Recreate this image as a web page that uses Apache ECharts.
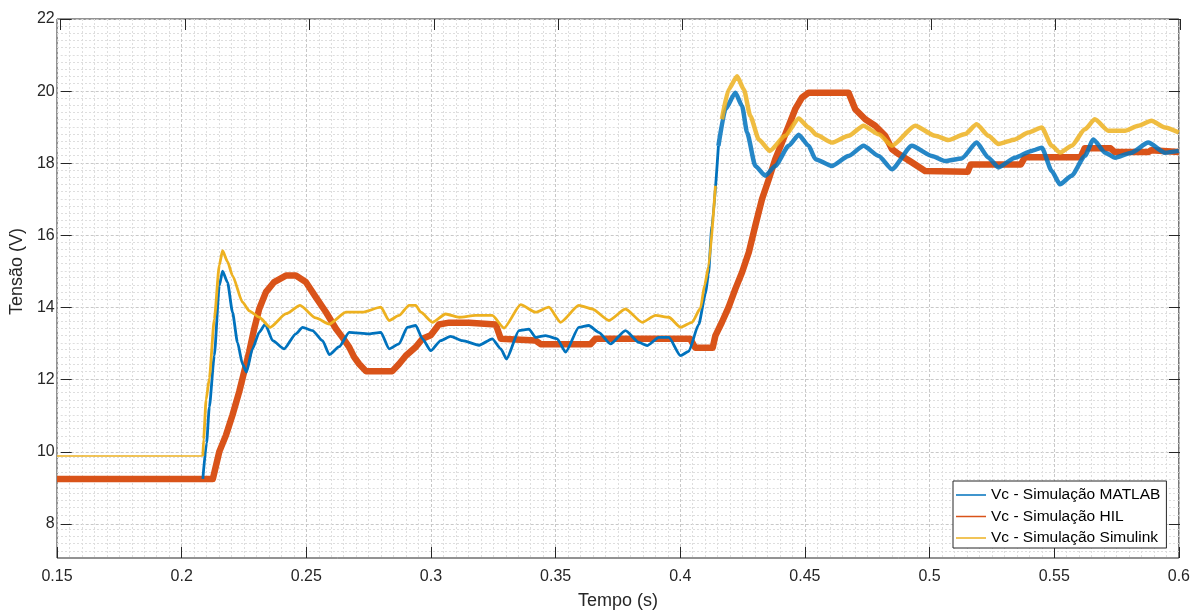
<!DOCTYPE html>
<html>
<head>
<meta charset="utf-8">
<script src="https://cdn.jsdelivr.net/npm/echarts@6/dist/echarts.min.js"></script>
<style>html,body{margin:0;padding:0;background:#fff;}#c{width:1193px;height:615px;}</style>
</head>
<body>
<div id="c"></div>
<script>
// ---- data (time in s, voltage in V) ----
const seriesNames = ['Vc - Simulação MATLAB', 'Vc - Simulação HIL', 'Vc - Simulação Simulink'];
const seriesColors = ['#0072BD', '#D95319', '#EDB120'];

const matlabData = [
[0.2085,9.20],[0.2100,10.2],[0.2111,11.2],[0.2131,12.63],[0.2151,14.58],[0.2164,14.98],[0.2184,14.67],[0.2204,13.84],[0.2224,13.00],[0.2244,12.40],[0.2260,12.17],[0.2284,12.82],[0.2311,13.28],[0.2335,13.51],[0.2365,13.05],[0.2411,12.82],[0.2458,13.24],[0.2485,13.42],[0.2525,13.33],[0.2565,13.05],[0.2592,12.66],[0.2632,12.88],[0.2672,13.28],[0.2752,13.24],[0.2799,13.28],[0.2832,12.82],[0.2872,12.96],[0.2905,13.42],[0.2939,13.47],[0.2966,13.10],[0.2999,12.77],[0.3039,13.05],[0.3079,13.17],[0.3126,13.05],[0.3193,12.92],[0.3246,13.10],[0.3280,12.82],[0.3303,12.54],[0.3353,13.33],[0.3393,13.37],[0.3420,13.14],[0.3460,13.19],[0.3506,13.10],[0.3540,12.73],[0.3593,13.42],[0.3633,13.47],[0.3673,13.28],[0.3720,12.96],[0.3780,13.33],[0.3834,13.00],[0.3867,12.91],[0.3914,13.14],[0.3954,13.14],[0.4001,12.63],[0.4034,12.75],[0.4074,13.50],[0.4101,14.35],[0.4113,14.90],[0.4127,16.25],[0.4153,18.47],[0.4181,19.49],[0.4221,19.95],[0.4248,19.58],[0.4268,18.84],[0.4301,17.91],[0.4341,17.64],[0.4381,17.91],[0.4435,18.47],[0.4475,18.78],[0.4515,18.47],[0.4542,18.10],[0.4608,17.91],[0.4675,18.19],[0.4735,18.47],[0.4796,18.19],[0.4849,17.82],[0.4929,18.47],[0.5009,18.19],[0.5062,18.05],[0.5129,18.12],[0.5189,18.56],[0.5236,18.14],[0.5276,17.87],[0.5343,18.14],[0.5409,18.33],[0.5450,18.42],[0.5490,17.77],[0.5523,17.40],[0.5570,17.64],[0.5623,18.19],[0.5657,18.65],[0.5704,18.28],[0.5744,18.14],[0.5810,18.28],[0.5877,18.56],[0.5944,18.28],[0.6000,18.33]
];

const hilData = [
[0.1500,9.20],[0.2125,9.20],[0.2151,9.96],[0.2178,10.42],[0.2204,10.98],[0.2231,11.63],[0.2251,12.19],[0.2271,12.74],[0.2291,13.38],[0.2311,13.93],[0.2338,14.40],[0.2371,14.68],[0.2418,14.86],[0.2458,14.86],[0.2498,14.68],[0.2538,14.26],[0.2579,13.84],[0.2619,13.38],[0.2645,13.14],[0.2672,12.87],[0.2692,12.59],[0.2712,12.40],[0.2739,12.20],[0.2845,12.20],[0.2872,12.40],[0.2899,12.63],[0.2939,12.87],[0.2966,13.10],[0.2999,13.20],[0.3032,13.50],[0.3073,13.55],[0.3153,13.55],[0.3260,13.50],[0.3280,13.10],[0.3420,13.05],[0.3440,12.95],[0.3640,12.95],[0.3660,13.10],[0.4040,13.10],[0.4060,12.85],[0.4130,12.85],[0.4141,13.19],[0.4167,13.56],[0.4194,13.98],[0.4221,14.49],[0.4248,14.95],[0.4275,15.51],[0.4301,16.25],[0.4328,16.99],[0.4355,17.54],[0.4381,18.10],[0.4408,18.56],[0.4435,19.03],[0.4461,19.49],[0.4488,19.81],[0.4515,19.95],[0.4675,19.95],[0.4702,19.49],[0.4742,19.21],[0.4782,19.03],[0.4822,18.75],[0.4849,18.38],[0.4876,18.24],[0.4929,18.01],[0.4982,17.77],[0.5153,17.75],[0.5165,17.95],[0.5366,17.95],[0.5382,18.15],[0.5606,18.15],[0.5622,18.40],[0.5726,18.40],[0.5742,18.30],[0.5878,18.30],[0.5890,18.35],[0.6000,18.30]
];

const simulinkData = [
[0.1500,9.84],[0.2085,9.84],[0.2088,10.30],[0.2098,11.40],[0.2111,12.00],[0.2131,13.65],[0.2151,15.15],[0.2164,15.55],[0.2184,15.25],[0.2204,14.86],[0.2244,14.12],[0.2271,13.88],[0.2311,13.70],[0.2355,13.42],[0.2419,13.80],[0.2475,14.03],[0.2538,13.68],[0.2592,13.51],[0.2659,13.84],[0.2725,13.84],[0.2799,13.98],[0.2832,13.61],[0.2872,13.75],[0.2912,14.03],[0.2939,14.03],[0.2959,13.84],[0.3006,13.56],[0.3059,13.79],[0.3113,13.70],[0.3179,13.75],[0.3246,13.75],[0.3293,13.40],[0.3360,14.05],[0.3420,13.84],[0.3473,13.98],[0.3520,13.56],[0.3593,14.03],[0.3647,13.93],[0.3714,13.61],[0.3780,13.93],[0.3847,13.56],[0.3901,13.75],[0.3954,13.70],[0.4001,13.42],[0.4047,13.56],[0.4081,13.95],[0.4098,14.60],[0.4113,15.10],[0.4141,17.36],[0.4167,19.21],[0.4194,20.04],[0.4228,20.41],[0.4255,20.04],[0.4281,19.30],[0.4315,18.65],[0.4359,18.33],[0.4421,18.75],[0.4475,19.23],[0.4515,18.98],[0.4547,18.77],[0.4608,18.56],[0.4675,18.75],[0.4735,19.03],[0.4796,18.79],[0.4849,18.47],[0.4942,19.03],[0.5022,18.75],[0.5075,18.63],[0.5143,18.80],[0.5189,19.07],[0.5236,18.75],[0.5276,18.52],[0.5343,18.65],[0.5396,18.84],[0.5450,18.98],[0.5490,18.47],[0.5523,18.28],[0.5570,18.47],[0.5623,18.93],[0.5663,19.21],[0.5717,18.89],[0.5784,18.89],[0.5837,19.03],[0.5890,19.17],[0.5944,18.98],[0.6000,18.84]
];

const xRange = [0.15, 0.6];
const yRange = [7, 22];
const yLabelRange = [8, 22];
const stepTime = 0.2085;        // before the first step the Simulink trace is a plain thin line
const rippleSplitTime = 0.4153; // ripple band gets wider after the second step

// ---- chart ----
const FONT = "'Liberation Sans', Arial, Helvetica, sans-serif";
const AX = '#262626';
const majorGrid = { show: true, lineStyle: { color: '#c8c8c8', width: 1, type: [3, 2] } };
const minorGrid = { show: true, lineStyle: { color: '#dedede', width: 1, type: [2, 2] } };

const part = (arr, a, b) => arr.filter(p => p[0] >= a && p[0] <= b);

const L = 57, T = 19, W = 1123, H = 541;
const pxPerV = H / (yRange[1] - yRange[0]);
const H2 = (yRange[1] - yLabelRange[0]) * pxPerV;

function lineSeries(name, color, data, width, opacity, smooth) {
  return {
    type: 'line', name, data, xAxisIndex: 0, yAxisIndex: 0,
    showSymbol: false, symbol: 'none', animation: false, sampling: null,
    smooth: smooth || false, smoothMonotone: 'x',
    lineStyle: { color, width, opacity: opacity == null ? 1 : opacity, join: 'round' },
    itemStyle: { color }, emphasis: { disabled: true }
  };
}

const option = {
  backgroundColor: '#ffffff',
  animation: false,
  textStyle: { fontFamily: FONT },
  grid: [
    { left: L, top: T, width: W, height: H, show: true, borderColor: AX, borderWidth: 1, backgroundColor: '#fff' },
    { left: L, top: T, width: W, height: H2, show: false }
  ],
  xAxis: [
    {
      type: 'value', gridIndex: 0, position: 'bottom', min: xRange[0], max: xRange[1], interval: 0.05,
      axisLine: { show: false },
      axisTick: { show: true, inside: true, length: 11, lineStyle: { color: AX } },
      axisLabel: { color: AX, fontSize: 16, fontFamily: FONT, margin: 11, formatter: v => String(+v.toFixed(3)) },
      splitLine: majorGrid,
      minorTick: { show: false, splitNumber: 10 },
      minorSplitLine: minorGrid,
      name: 'Tempo (s)', nameLocation: 'middle', nameGap: 34,
      nameTextStyle: { color: AX, fontSize: 18, fontFamily: FONT }
    },
    {
      type: 'value', gridIndex: 1, position: 'top', min: xRange[0], max: xRange[1], interval: 0.05,
      axisLine: { show: false },
      axisTick: { show: true, inside: true, length: 11, lineStyle: { color: AX } },
      axisLabel: { show: false }, splitLine: { show: false }
    }
  ],
  yAxis: [
    {
      type: 'value', gridIndex: 0, position: 'left', min: yRange[0], max: yRange[1], interval: 1,
      axisLine: { show: false }, axisTick: { show: false }, axisLabel: { show: false },
      splitLine: { show: false },
      minorTick: { show: false, splitNumber: 5 },
      minorSplitLine: minorGrid
    },
    {
      type: 'value', gridIndex: 1, position: 'left', min: yLabelRange[0], max: yLabelRange[1], interval: 2,
      axisLine: { show: false },
      axisTick: { show: true, inside: true, length: 11, lineStyle: { color: AX } },
      axisLabel: { color: AX, fontSize: 16, fontFamily: FONT, margin: 6 },
      splitLine: majorGrid,
      minorTick: { show: false, splitNumber: 2 },
      minorSplitLine: minorGrid,
      name: 'Tensão (V)', nameLocation: 'middle', nameGap: 27, nameRotate: 90,
      nameTextStyle: { color: AX, fontSize: 18, fontFamily: FONT }
    },
    {
      type: 'value', gridIndex: 1, position: 'right', min: yLabelRange[0], max: yLabelRange[1], interval: 2,
      axisLine: { show: false },
      axisTick: { show: true, inside: true, length: 11, lineStyle: { color: AX } },
      axisLabel: { show: false }, splitLine: { show: false }
    }
  ],
  legend: {
    data: seriesNames,
    orient: 'vertical', left: 953, top: 481,
    backgroundColor: '#ffffff', borderColor: AX, borderWidth: 1,
    padding: [6, 6, 2, 3], itemGap: 5.5, itemWidth: 30, itemHeight: 1.5,
    icon: 'rect',
    textStyle: { color: '#000', fontSize: 15.5, fontFamily: FONT, lineHeight: 16 },
    selectedMode: false
  },
  series: [
    lineSeries(seriesNames[1], seriesColors[1], hilData, 6.5),
    lineSeries(seriesNames[0], seriesColors[0], part(matlabData, 0, rippleSplitTime), 2.8, 1, 0.2),
    lineSeries(seriesNames[0], seriesColors[0], part(matlabData, rippleSplitTime, 1), 4.5, 0.85, 0.2),
    lineSeries(seriesNames[2], seriesColors[2], part(simulinkData, 0, stepTime), 1.5),
    lineSeries(seriesNames[2], seriesColors[2], part(simulinkData, stepTime, rippleSplitTime), 2.8, 1, 0.2),
    lineSeries(seriesNames[2], seriesColors[2], part(simulinkData, rippleSplitTime, 1), 4.5, 0.85, 0.2)
  ]
};

const chart = echarts.init(document.getElementById('c'), null, { renderer: 'canvas' });
chart.setOption(option);
</script>
</body>
</html>
